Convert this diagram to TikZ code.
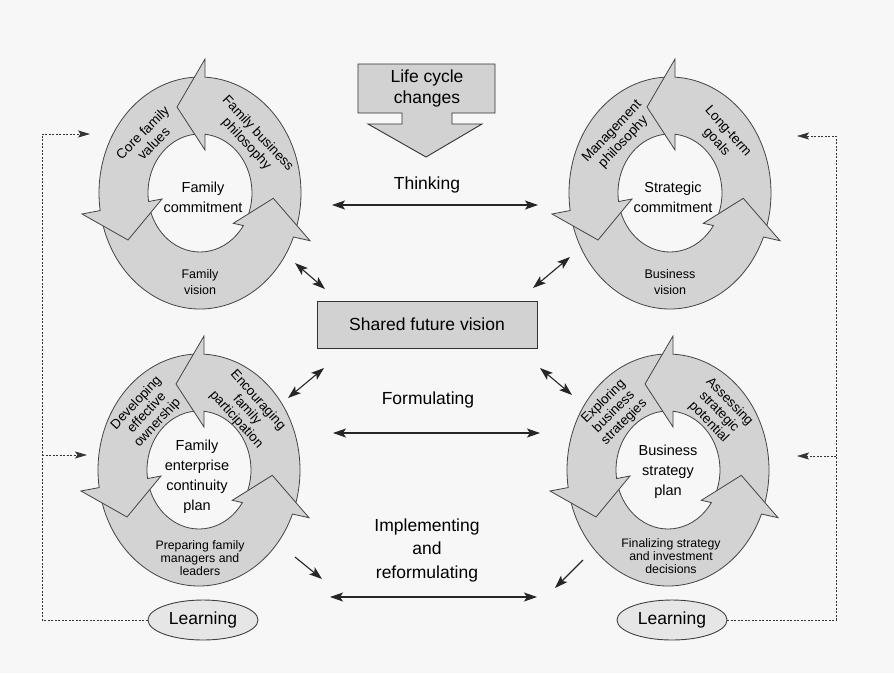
\documentclass[tikz,border=0pt]{standalone}
\usepackage{fontspec}
\setmainfont{Liberation Sans}
\usetikzlibrary{arrows.meta,shapes.geometric,calc}
\definecolor{bgc}{HTML}{F7F7F7}
\definecolor{ringc}{HTML}{D3D3D3}
\definecolor{linec}{HTML}{444444}
\definecolor{boxc}{HTML}{D2D2D2}
\definecolor{learnc}{HTML}{E6E6E6}
\tikzset{
  ringline/.style={draw=linec,line width=0.8pt,line join=miter},
  cyc/.pic={
    \fill[ringc,even odd rule] (0,0) ellipse[x radius=101,y radius=116] (0,0) ellipse[x radius=52,y radius=59];
    \fill[ringc] (5,134)--(-23,86)--(5,43)--cycle;
    \fill[ringc] (-118,-21)--(-72,-47)--(-38,-6)--cycle;
    \fill[ringc] (110,-47.7)--(73.3,-5.3)--(33.3,-30.3)--cycle;
    \draw[ringline] (93.1:101 and 116) arc[start angle=93.1,end angle=188.7,x radius=101,y radius=116]
      -- (-118,-21) -- (-72,-47) -- (-38,-6) -- (188.3:52 and 59)
      arc[start angle=188.3,end angle=95.7,x radius=52,y radius=59];
    \draw[ringline] (196.5:101 and 116) arc[start angle=196.5,end angle=337.7,x radius=101,y radius=116]
      -- (110,-47.7) -- (73.3,-5.3) -- (33.3,-30.3) -- (326.5:52 and 59)
      arc[start angle=326.5,end angle=199.3,x radius=52,y radius=59];
    \draw[ringline] (-16.3:101 and 116) arc[start angle=-16.3,end angle=87.2,x radius=101,y radius=116]
      -- (5,134) -- (-23,86) -- (5,43) -- (84.5:52 and 59)
      arc[start angle=84.5,end angle=-20.4,x radius=52,y radius=59];
  },
  bigtxt/.style={font=\fontsize{17.5}{21}\selectfont,align=center,inner sep=0pt},
  impltxt/.style={font=\fontsize{17.5}{23.5}\selectfont,align=center,inner sep=0pt},
  midtxt/.style={font=\fontsize{14.5}{20}\selectfont,align=center,inner sep=0pt},
  rottxt/.style={font=\fontsize{13.6}{15.5}\selectfont,align=center,inner sep=0pt},
  rotthree/.style={font=\fontsize{13.4}{14.5}\selectfont,align=center,inner sep=0pt},
  lowtxt/.style={font=\fontsize{12.5}{16.5}\selectfont,align=center,inner sep=0pt},
  lowthree/.style={font=\fontsize{12.3}{13.2}\selectfont,align=center,inner sep=0pt},
  boxnode/.style={draw=black!80,fill=boxc,line width=0.9pt,minimum width=220pt,minimum height=47pt,inner sep=0pt,font=\fontsize{17.5}{21}\selectfont},
  learn/.style={ellipse,draw=black!75,fill=learnc,line width=0.9pt,minimum width=110pt,minimum height=40pt,inner sep=0pt,font=\fontsize{17.5}{21}\selectfont},
  dbl/.style={{Stealth[length=13pt,width=9pt,inset=3pt]}-{Stealth[length=13pt,width=9pt,inset=3pt]},line width=1.1pt,draw=black!85},
  sgl/.style={-{Stealth[length=13pt,width=9pt,inset=3pt]},line width=1.1pt,draw=black!85},
  dashline/.style={draw=black!80,line width=0.8pt,dash pattern=on 2pt off 1.5pt},
  dashtip/.style={-{Stealth[length=12pt,width=7pt,inset=2.5pt]}}
}
\begin{document}
\begin{tikzpicture}[x=1pt,y=1pt]
\fill[bgc] (0,0) rectangle (894,-673);
\useasboundingbox (0,0) rectangle (894,-673);

% cycles
\pic at (200,-193) {cyc};
\pic at (670,-193) {cyc};
\pic at (199,-470) {cyc};
\pic at (668,-470) {cyc};

% top-left cycle texts
\node[midtxt] (fc) at (203,-197) {Family\\commitment};
\node[rottxt,rotate=45] (cfv) at (148,-138) {Core family\\values};
\node[rottxt,rotate=-47] (fbp) at (252,-139) {Family business\\philosophy};
\node[lowtxt] (fv) at (200,-282) {Family\\vision};

% top-right cycle texts
\node[midtxt] (sc) at (673,-197) {Strategic\\commitment};
\node[rottxt,rotate=46.5] (mp) at (618,-137) {Management\\philosophy};
\node[rottxt,rotate=-48] (ltg) at (722,-137) {Long-term\\goals};
\node[lowtxt] (bv) at (670,-282) {Business\\vision};

% bottom-left cycle texts
\node[midtxt] (fecp) at (197,-477) {Family\\enterprise\\continuity\\plan};
\node[rotthree,rotate=47] (deo) at (147,-413) {Developing\\effective\\ownership};
\node[rotthree,rotate=-48] (efp) at (247,-410) {Encouraging\\family\\participation};
\node[lowthree] (pfm) at (200,-558) {Preparing family\\managers and\\leaders};

% bottom-right cycle texts
\node[midtxt] (bsp) at (668,-472) {Business\\strategy\\plan};
\node[rotthree,rotate=45] (ebs) at (614,-412) {Exploring\\business\\strategies};
\node[rotthree,rotate=-46] (asp) at (719,-412) {Assessing\\strategic\\potential};
\node[lowthree] (fsi) at (671,-556) {Finalizing strategy\\and investment\\decisions};

% life cycle changes arrow box
\fill[boxc] (358,-64) -- (495,-64) -- (495,-113) -- (452,-113) -- (452,-124) -- (482,-124) -- (426,-157)
  -- (368,-124) -- (402,-124) -- (402,-113) -- (358,-113) -- cycle;
\draw[draw=black!80,line width=0.9pt,line join=miter] (358,-64) -- (495,-64) -- (495,-113) -- (452,-113) -- (452,-124) -- (482,-124) -- (426,-157)
  -- (368,-124) -- (402,-124) -- (402,-113) -- (358,-113) -- cycle;
\node[bigtxt] (lcc) at (427,-88.5) {Life cycle\\changes};

% central labels
\node[bigtxt] (think) at (427,-185) {Thinking};
\node[boxnode] (sfv) at (427,-324.5) {Shared future vision};
\node[bigtxt] (form) at (428,-400) {Formulating};
\node[impltxt] (impl) at (427,-550) {Implementing\\and\\reformulating};

% learning
\node[learn] (learnL) at (203,-620) {Learning};
\node[learn] (learnR) at (672,-620) {Learning};

% arrow end coordinates
\coordinate (thL) at (332,-205); \coordinate (thR) at (538,-205);
\coordinate (foL) at (333,-433); \coordinate (foR) at (540,-433);
\coordinate (imL) at (330,-597); \coordinate (imR) at (537,-597);
\coordinate (dTLa) at (295,-263); \coordinate (dTLb) at (325,-289);
\coordinate (dTRa) at (570,-257); \coordinate (dTRb) at (533,-288);
\coordinate (dBLa) at (288,-398); \coordinate (dBLb) at (324,-368);
\coordinate (dBRa) at (540,-368); \coordinate (dBRb) at (572,-395);
\coordinate (sBLa) at (295,-557); \coordinate (sBLb) at (322,-579);
\coordinate (sBRa) at (583,-560); \coordinate (sBRb) at (555,-588);

\draw[dbl] (thL) -- (thR);
\draw[dbl] (foL) -- (foR);
\draw[dbl] (imL) -- (imR);
\draw[dbl] (dTLa) -- (dTLb);
\draw[dbl] (dTRa) -- (dTRb);
\draw[dbl] (dBLa) -- (dBLb);
\draw[dbl] (dBRa) -- (dBRb);
\draw[sgl] (sBLa) -- (sBLb);
\draw[sgl] (sBRa) -- (sBRb);

% dashed feedback
\coordinate (lt) at (42,-134); \coordinate (ltE) at (90,-134);
\coordinate (lm) at (42,-455); \coordinate (lmE) at (87,-455);
\coordinate (rt) at (836,-136); \coordinate (rtE) at (797,-136);
\coordinate (rm) at (836,-456); \coordinate (rmE) at (797,-456);
\draw[dashline,dashtip] (learnL.west) -| (lt) -- (ltE);
\draw[dashline,dashtip] (lm) -- (lmE);
\draw[dashline,dashtip] (learnR.east) -| (rt) -- (rtE);
\draw[dashline,dashtip] (rm) -- (rmE);
\end{tikzpicture}
\end{document}
